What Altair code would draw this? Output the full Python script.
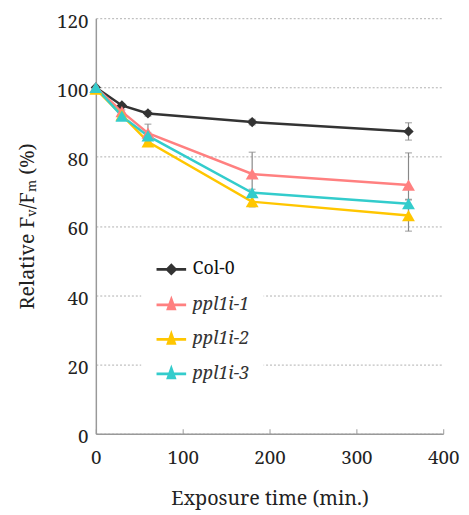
import altair as alt
import pandas as pd

times = [0, 30, 60, 180, 360]
series = ["Col-0", "ppl1i-1", "ppl1i-2", "ppl1i-3"]
colors = ["#333333", "#FF8080", "#FFC600", "#33CCCC"]

col0 = [100, 94.8, 92.5, 90.0, 87.3]
ppl1 = [100, 93.0, 86.8, 75.0, 71.8]
ppl2 = [99.5, 92.0, 84.3, 67.0, 63.0]
ppl3 = [100, 91.7, 86.0, 69.6, 66.4]

err_col0 = [0, 0.5, 0.8, 0.8, 2.5]
err_1 = [0, 0.5, 2.6, 6.3, 9.3]
err_2 = [0, 0.5, 1.0, 1.5, 4.5]
err_3 = [0, 0.5, 1.0, 1.0, 1.3]

rows = []
for s, vals, errs in zip(series, [col0, ppl1, ppl2, ppl3], [err_col0, err_1, err_2, err_3]):
    for t, v, e in zip(times, vals, errs):
        rows.append({"series": s, "time": t, "value": v, "lo": v - e, "hi": v + e,
                     "order": series.index(s)})
df = pd.DataFrame(rows)

FONT = "Noto Serif"

x = alt.X("time:Q", scale=alt.Scale(domain=[0, 400], nice=False),
          axis=alt.Axis(values=[0, 100, 200, 300, 400], title="Exposure time (min.)",
                        grid=False, tickSize=alt.ExprRef("-5"), labelFlush=False,
                        labelPadding=20, titlePadding=22))
y = alt.Y("value:Q", scale=alt.Scale(domain=[0, 120], nice=False),
          axis=alt.Axis(values=[0, 20, 40, 60, 80, 100, 120], title="Relative Fᵥ/Fₘ (%)",
                        ticks=False, grid=True, gridDash=[2, 2], gridColor="#b0b0b0",
                        labelOffset=3, labelPadding=8, titlePadding=19))

color = alt.Color("series:N", scale=alt.Scale(domain=series, range=colors),
                  legend=alt.Legend(
                      title=None, orient="none", legendX=46, legendY=224,
                      fillColor="white", padding=14, rowPadding=9,
                      symbolSize=900, symbolStrokeWidth=2.8, labelOffset=5,
                      labelFontSize=18, labelFont=FONT, labelFontWeight="normal",
                      labelColor=alt.ExprRef("datum.label == 'Col-0' ? '#111111' : '#333333'"),
                      labelFontStyle=alt.ExprRef("datum.label == 'Col-0' ? 'normal' : 'italic'"),
                      symbolType=alt.ExprRef(
                          "datum.label == 'Col-0' ? 'M-1,0H1M0,-0.28L0.28,0L0,0.28L-0.28,0Z' : 'M-1,0H1M0,-0.36L0.22,0.26L-0.22,0.26Z'"),
                  ))

base = alt.Chart(df)

err_rule = base.mark_rule(color="#888888", strokeWidth=1.2).encode(
    x=x, y=alt.Y("lo:Q"), y2="hi:Q")
cap_lo = base.mark_tick(color="#888888", size=7, thickness=1.2, orient="horizontal").encode(
    x=x, y=alt.Y("lo:Q"))
cap_hi = base.mark_tick(color="#888888", size=7, thickness=1.2, orient="horizontal").encode(
    x=x, y=alt.Y("hi:Q"))

lines = base.mark_line(strokeWidth=2.5).encode(x=x, y=y, color=color, order="time:Q",
                                               detail="series:N")

pts_col0 = base.transform_filter(alt.datum.series == "Col-0").mark_point(
    shape="diamond", filled=True, size=110, opacity=1).encode(
    x=x, y=y, color=alt.Color("series:N", scale=alt.Scale(domain=series, range=colors), legend=None))
pts_tri = base.transform_filter(alt.datum.series != "Col-0").mark_point(
    shape="triangle-up", filled=True, size=170, opacity=1).encode(
    x=x, y=y, color=alt.Color("series:N", scale=alt.Scale(domain=series, range=colors), legend=None),
    order=alt.Order("order:Q"))

chart = alt.layer(err_rule, cap_lo, cap_hi, lines, pts_col0, pts_tri).properties(
    width=352, height=421,
    autosize=alt.AutoSizeParams(type="none"),
    padding={"left": 89, "top": 7, "right": 18, "bottom": 76},
).configure(font=FONT).configure_axis(
    labelFont=FONT, titleFont=FONT, labelFontSize=19, titleFontSize=20,
    labelColor="#222222", titleColor="#222222", titleFontWeight="normal",
    domainColor="#999999", domainWidth=1.5, tickColor="#999999"
).configure_view(stroke=None)

chart.save("out.html", embed_options={"renderer": "svg", "actions": False})
